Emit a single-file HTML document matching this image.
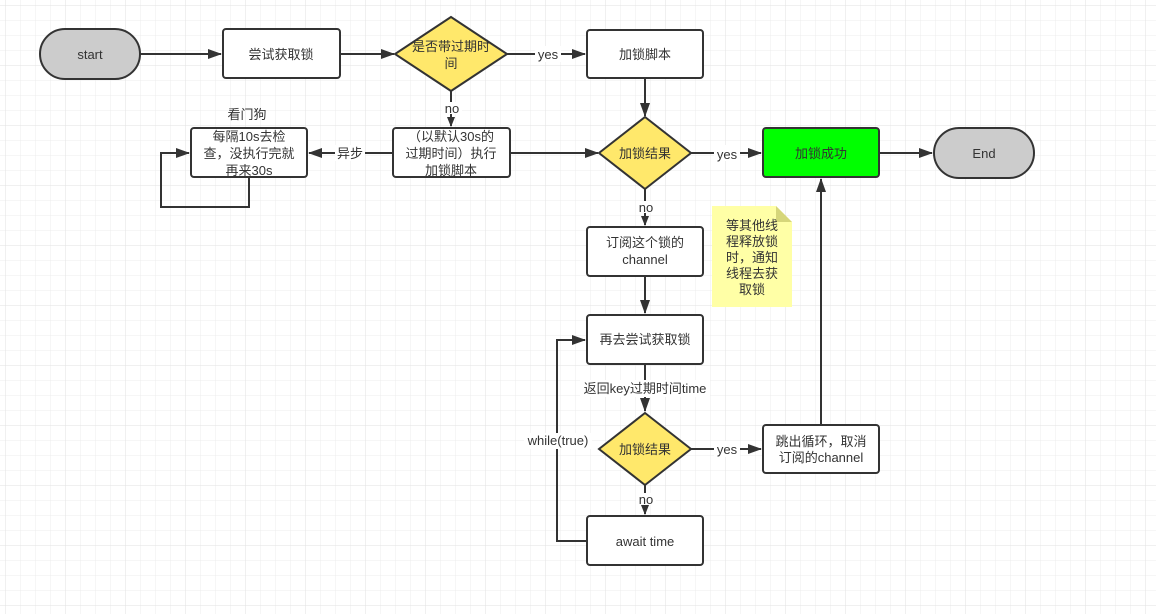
<!DOCTYPE html>
<html><head><meta charset="utf-8"><style>
html,body{margin:0;padding:0;background:#fff}
svg{display:block}
text{font-family:"Liberation Sans","Noto Sans CJK SC",sans-serif;font-size:13px;fill:#333}
</style></head><body>
<svg width="1156" height="614" viewBox="0 0 1156 614" xmlns="http://www.w3.org/2000/svg">
<defs>
<pattern id="g" x="6" y="6" width="15" height="15" patternUnits="userSpaceOnUse">
<path d="M15 0V15M0 15H15" stroke="#ececec" stroke-width="1" fill="none"/>
</pattern>
<pattern id="G" x="6" y="6" width="60" height="60" patternUnits="userSpaceOnUse">
<path d="M60 0V60M0 60H60" stroke="#e2e2e2" stroke-width="1" fill="none"/>
</pattern>
<marker id="a" markerWidth="14" markerHeight="12" refX="13" refY="6" orient="auto" markerUnits="userSpaceOnUse">
<path d="M0,1 L14,6 L0,11 Z" fill="#333"/>
</marker>
<marker id="s" markerWidth="10" markerHeight="10" refX="9" refY="5" orient="auto" markerUnits="userSpaceOnUse">
<path d="M0,1 L10,5 L0,9 Z" fill="#333"/>
</marker>
</defs>
<rect width="1156" height="614" fill="#fff"/>
<rect width="1156" height="614" fill="url(#g)"/>
<rect width="1156" height="614" fill="url(#G)"/>

<g stroke="#333" stroke-width="2" fill="none">
<path d="M140 54H221" marker-end="url(#a)"/>
<path d="M340 54H394" marker-end="url(#a)"/>
<path d="M507 54H585" marker-end="url(#a)"/>
<path d="M645 78V116" marker-end="url(#a)"/>
<path d="M451 91V126" marker-end="url(#s)"/>
<path d="M393 153H309" marker-end="url(#a)"/>
<path d="M510 153H598" marker-end="url(#a)"/>
<path d="M691 153H761" marker-end="url(#a)"/>
<path d="M879 153H932" marker-end="url(#a)"/>
<path d="M249 177V207H161V153H189" marker-end="url(#a)"/>
<path d="M645 189V225" marker-end="url(#s)"/>
<path d="M645 276V313" marker-end="url(#a)"/>
<path d="M645 364V411" marker-end="url(#a)"/>
<path d="M691 449H761" marker-end="url(#a)"/>
<path d="M645 485V514" marker-end="url(#s)"/>
<path d="M587 541H557V340H585" marker-end="url(#a)"/>
<path d="M821 425V179" marker-end="url(#a)"/>
</g>

<g fill="#fff">
<rect x="535" y="46" width="26" height="16"/>
<rect x="442" y="102" width="20" height="12"/>
<rect x="335" y="145" width="30" height="16"/>
<rect x="714" y="145" width="26" height="16"/>
<rect x="636" y="201" width="20" height="12"/>
<rect x="580" y="380" width="130" height="17"/>
<rect x="714" y="441" width="26" height="16"/>
<rect x="636" y="493" width="20" height="12"/>
<rect x="524" y="433" width="68" height="16"/>
</g>
<text x="548" y="59" text-anchor="middle">yes</text>
<text x="452" y="113" text-anchor="middle">no</text>
<text x="350" y="158" text-anchor="middle">异步</text>
<text x="727" y="159" text-anchor="middle">yes</text>
<text x="646" y="212" text-anchor="middle">no</text>
<text x="645" y="393" text-anchor="middle">返回key过期时间time</text>
<text x="727" y="454" text-anchor="middle">yes</text>
<text x="646" y="504" text-anchor="middle">no</text>
<text x="558" y="445" text-anchor="middle">while(true)</text>
<text x="247" y="119" text-anchor="middle">看门狗</text>

<g stroke="#333" stroke-width="2">
<rect x="40" y="29" width="100" height="50" rx="25" fill="#ccc"/>
<rect x="934" y="128" width="100" height="50" rx="25" fill="#ccc"/>
<rect x="223" y="29" width="117" height="49" rx="3" fill="#fff"/>
<rect x="587" y="30" width="116" height="48" rx="3" fill="#fff"/>
<rect x="393" y="128" width="117" height="49" rx="3" fill="#fff"/>
<rect x="191" y="128" width="116" height="49" rx="3" fill="#fff"/>
<rect x="763" y="128" width="116" height="49" rx="3" fill="#00ff00"/>
<rect x="587" y="227" width="116" height="49" rx="3" fill="#fff"/>
<rect x="587" y="315" width="116" height="49" rx="3" fill="#fff"/>
<rect x="587" y="516" width="116" height="49" rx="3" fill="#fff"/>
<rect x="763" y="425" width="116" height="48" rx="3" fill="#fff"/>
<path d="M451 17L507 54L451 91L395 54Z" fill="#ffe86b"/>
<path d="M645 117L691 153L645 189L599 153Z" fill="#ffe86b"/>
<path d="M645 413L691 449L645 485L599 449Z" fill="#ffe86b"/>
</g>
<path d="M712 206H776L792 222V307H712Z" fill="#ffffa6"/>
<path d="M776 206L792 222H776Z" fill="#d6d67a"/>

<text x="90" y="59" text-anchor="middle">start</text>
<text x="984" y="158" text-anchor="middle">End</text>
<text x="281" y="59" text-anchor="middle">尝试获取锁</text>
<text x="645" y="59" text-anchor="middle">加锁脚本</text>
<text x="451" y="51" text-anchor="middle">是否带过期时</text>
<text x="451" y="68" text-anchor="middle">间</text>
<text x="451" y="141" text-anchor="middle">（以默认30s的</text>
<text x="451" y="158" text-anchor="middle">过期时间）执行</text>
<text x="451" y="175" text-anchor="middle">加锁脚本</text>
<text x="249" y="141" text-anchor="middle">每隔10s去检</text>
<text x="249" y="158" text-anchor="middle">查，没执行完就</text>
<text x="249" y="175" text-anchor="middle">再来30s</text>
<text x="645" y="158" text-anchor="middle">加锁结果</text>
<text x="821" y="158" text-anchor="middle">加锁成功</text>
<text x="645" y="247" text-anchor="middle">订阅这个锁的</text>
<text x="645" y="264" text-anchor="middle">channel</text>
<text x="645" y="344" text-anchor="middle">再去尝试获取锁</text>
<text x="645" y="454" text-anchor="middle">加锁结果</text>
<text x="645" y="546" text-anchor="middle">await time</text>
<text x="821" y="446" text-anchor="middle">跳出循环，取消</text>
<text x="821" y="462" text-anchor="middle">订阅的channel</text>
<text x="752" y="230" text-anchor="middle">等其他线</text>
<text x="752" y="246" text-anchor="middle">程释放锁</text>
<text x="752" y="262" text-anchor="middle">时，通知</text>
<text x="752" y="278" text-anchor="middle">线程去获</text>
<text x="752" y="294" text-anchor="middle">取锁</text>
</svg>
</body></html>
